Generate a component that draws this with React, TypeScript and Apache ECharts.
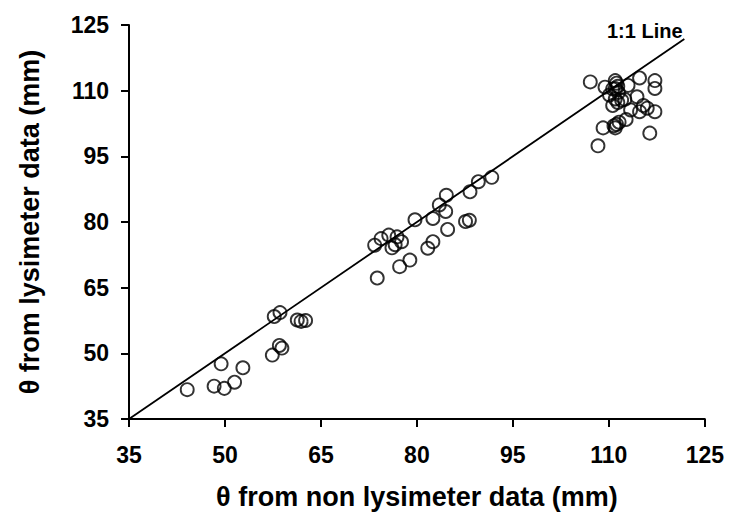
import React, { useEffect, useRef } from "react";
import * as echarts from "echarts";

const xTicks = [35, 50, 65, 80, 95, 110, 125];
const yTicks = [35, 50, 65, 80, 95, 110, 125];

const lowX = [44.1, 48.3, 49.9, 51.5, 49.4, 52.8, 57.4, 58.5, 58.9, 57.7, 58.6, 61.3, 61.9, 62.6];
const lowY = [41.7, 42.5, 42.0, 43.4, 47.6, 46.7, 49.6, 51.8, 51.2, 58.4, 59.3, 57.6, 57.3, 57.5];

const midX = [73.8, 77.3, 78.9, 73.4, 74.4, 75.6, 76.1, 76.9, 77.6, 76.6, 81.7, 82.5, 79.7, 82.5, 84.8, 87.6, 88.2, 84.5, 83.5, 84.6, 88.3, 89.6, 91.7];
const midY = [67.2, 69.8, 71.3, 74.7, 76.2, 77.0, 74.1, 76.6, 75.5, 74.8, 74.0, 75.5, 80.5, 80.8, 78.3, 80.1, 80.4, 82.4, 83.9, 86.1, 86.9, 89.2, 90.2];

const highX = [107.1, 109.4, 110.1, 110.6, 111.0, 111.2, 111.4, 111.0, 111.5, 111.0, 111.4, 112.0, 110.6, 112.5, 113.0, 114.4, 114.8, 117.2, 117.2, 115.4, 114.8, 116.0, 117.2, 113.4, 112.7, 111.6, 111.2, 111.0, 110.8, 109.1, 116.4, 108.3];
const highY = [112.0, 110.8, 109.0, 110.4, 112.3, 111.7, 111.0, 110.5, 109.6, 108.1, 107.3, 107.8, 106.6, 108.0, 111.2, 108.6, 112.9, 112.3, 110.5, 106.6, 105.2, 106.0, 105.2, 105.6, 103.4, 102.8, 102.3, 101.5, 102.0, 101.5, 100.3, 97.4];

const lineX = [35, 121.8];
const lineY = [35, 121.8];

const FONT = "'Liberation Sans', Arial, sans-serif";

export default function App() {
  const ref = useRef<HTMLDivElement>(null);
  useEffect(() => {
    if (!ref.current) return;
    const chart = echarts.init(ref.current, undefined, { renderer: "svg" });
    const pts: number[][] = [];
    [[lowX, lowY], [midX, midY], [highX, highY]].forEach(([xs, ys]) => {
      xs.forEach((x, i) => pts.push([x, ys[i]]));
    });
    const axisCommon = {
      type: "value" as const,
      min: 35,
      max: 125,
      interval: 15,
      axisLine: { show: true, onZero: false, lineStyle: { color: "#000", width: 2 } },
      axisTick: { show: true, inside: false, length: 8, lineStyle: { color: "#000", width: 2 } },
      splitLine: { show: false },
      nameLocation: "middle" as const,
      nameTextStyle: { color: "#000", fontFamily: FONT, fontWeight: "bold" as const, fontSize: 27 },
    };
    chart.setOption({
      animation: false,
      backgroundColor: "#fff",
      grid: { left: 114, right: 15, top: 17, bottom: 98, containLabel: false },
      xAxis: {
        ...axisCommon,
        name: "θ from non lysimeter data (mm)",
        nameGap: 64,
        axisLabel: { color: "#000", fontFamily: FONT, fontWeight: "bold", fontSize: 23, margin: 24,
          formatter: (v: number) => (xTicks.includes(v) ? String(v) : "") },
      },
      yAxis: {
        ...axisCommon,
        name: "θ from lysimeter data (mm)",
        nameGap: 86,
        axisLabel: { color: "#000", fontFamily: FONT, fontWeight: "bold", fontSize: 23, margin: 20,
          formatter: (v: number) => (yTicks.includes(v) ? String(v) : "") },
      },
      series: [
        {
          type: "line",
          data: lineX.map((x, i) => [x, lineY[i]]),
          showSymbol: false,
          symbol: "none",
          lineStyle: { color: "#000", width: 1.8 },
          silent: true,
          z: 1,
        },
        {
          type: "scatter",
          data: pts,
          symbol: "circle",
          symbolSize: 13,
          itemStyle: { color: "rgba(255,255,255,0)", borderColor: "#000", borderWidth: 1.9 },
          z: 2,
        },
      ],
      graphic: [
        {
          type: "text",
          left: 599,
          top: 13,
          style: { text: "1:1 Line", fill: "#000", font: `bold 20px ${FONT}` },
        },
      ],
    });
    return () => chart.dispose();
  }, []);
  return <div ref={ref} style={{ width: 719, height: 509 }} />;
}
